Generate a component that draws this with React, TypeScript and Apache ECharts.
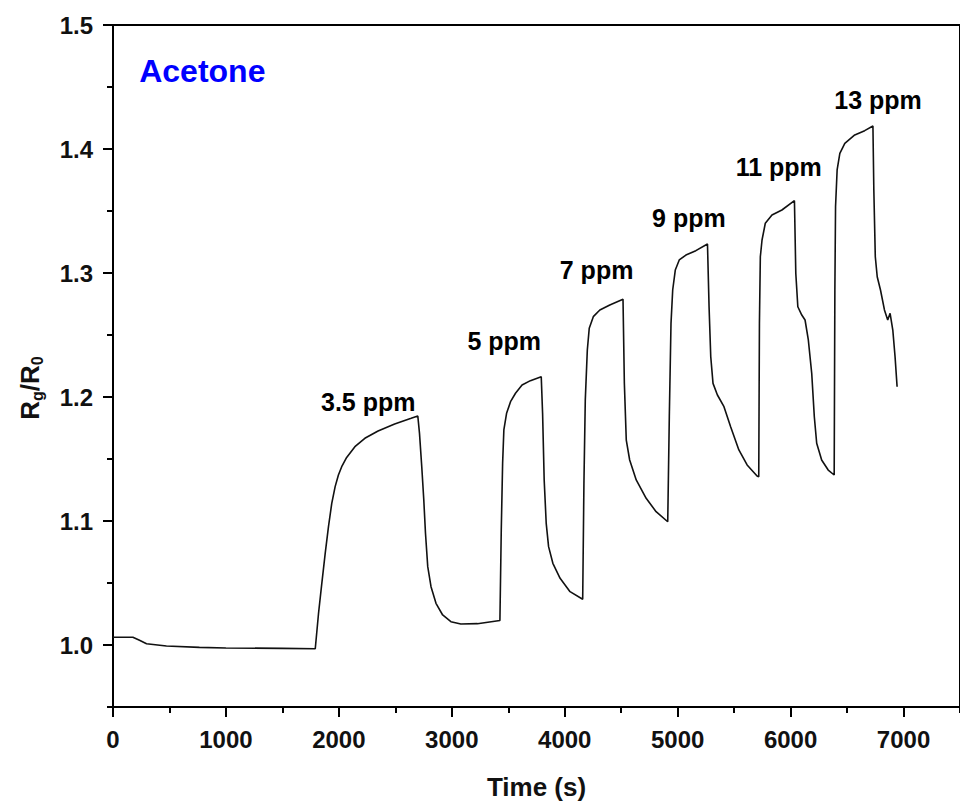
import React, { useEffect, useRef } from "react";
import * as echarts from "echarts";

// Time (s) and Rg/R0 samples
const timeS = [
  0, 176, 230, 297, 473, 765, 1000, 1497, 1791,
  1820, 1849, 1879, 1908, 1937, 1967, 1996, 2025, 2069, 2142, 2230, 2347, 2494, 2640, 2699,
  2714, 2734, 2752, 2767, 2787, 2816, 2860, 2919, 2992, 3080, 3227, 3426,
  3438, 3450, 3461, 3485, 3520, 3564, 3622, 3696, 3792,
  3804, 3818, 3836, 3857, 3895, 3959, 4047, 4159,
  4170, 4182, 4200, 4217, 4253, 4311, 4399, 4516,
  4528, 4545, 4575, 4633, 4721, 4809, 4912,
  4926, 4941, 4956, 4979, 5014, 5073, 5161, 5264,
  5278, 5293, 5313, 5352, 5410, 5469, 5542, 5615, 5703, 5718,
  5724, 5732, 5747, 5776, 5835, 5923, 6034,
  6046, 6064, 6099, 6128, 6157, 6187, 6210, 6231, 6275, 6333, 6386,
  6392, 6398, 6412, 6436, 6480, 6568, 6656, 6729,
  6737, 6750, 6767, 6796, 6831, 6860, 6881, 6905, 6925, 6943,
];
const ratio = [
  1.0062, 1.0062, 1.004, 1.001, 0.9992, 0.9981, 0.9976, 0.9973, 0.997,
  1.0256, 1.0497, 1.0739, 1.0954, 1.1142, 1.1277, 1.1371, 1.1438, 1.1513, 1.1599, 1.1667, 1.1726, 1.1782, 1.1828, 1.1847,
  1.1707, 1.1438, 1.1169, 1.0901, 1.0632, 1.047, 1.0336, 1.0242, 1.0188, 1.0169, 1.0172, 1.0198,
  1.0927, 1.1465, 1.1734, 1.1868, 1.1962, 1.203, 1.2097, 1.2132, 1.2164,
  1.1868, 1.1331, 1.0981, 1.0793, 1.0659, 1.0538, 1.043, 1.0369,
  1.1304, 1.1976, 1.2379, 1.2554, 1.2648, 1.2702, 1.2742, 1.2788,
  1.211, 1.1653, 1.1492, 1.1331, 1.1183, 1.1075, 1.0994,
  1.1841, 1.2594, 1.2863, 1.3024, 1.3105, 1.3145, 1.318, 1.3234,
  1.2728, 1.2325, 1.211, 1.2016, 1.1922, 1.176, 1.1573, 1.1452, 1.1363, 1.1357,
  1.2594, 1.3131, 1.3266, 1.3401, 1.3468, 1.3508, 1.3583,
  1.2998, 1.2728, 1.2661, 1.2621, 1.246, 1.2191, 1.1841, 1.1627, 1.1492, 1.1411, 1.1371,
  1.2863, 1.3535, 1.3831, 1.3965, 1.4046, 1.4113, 1.4148, 1.4185,
  1.3669, 1.3131, 1.297, 1.2863, 1.2702, 1.2621, 1.2675, 1.254, 1.2325, 1.2083,
];

// Concentration annotations
const concLabels = ["3.5 ppm", "5 ppm", "7 ppm", "9 ppm", "11 ppm", "13 ppm"];
const concLabelT = [2260, 3464, 4282, 5099, 5895, 6774];
const concLabelY = [1.1962, 1.2454, 1.3024, 1.3441, 1.3857, 1.4395];

const gasName = "Acetone";
const gasLabelT = 791;
const gasLabelY = 1.4629;

// Axis ticks
const xMajorTicks = [0, 1000, 2000, 3000, 4000, 5000, 6000, 7000];
const xMinorTicks = [500, 1500, 2500, 3500, 4500, 5500, 6500, 7500];
const yMajorTicks = [1.0, 1.1, 1.2, 1.3, 1.4, 1.5];
const yMinorTicks = [0.95, 1.05, 1.15, 1.25, 1.35, 1.45];

const FONT = "'Liberation Sans', Arial, sans-serif";

export default function App() {
  const ref = useRef<HTMLDivElement>(null);
  useEffect(() => {
    if (!ref.current) return;
    const chart = echarts.init(ref.current, undefined, { renderer: "svg" });
    const lineData = timeS.map((t, i) => [t, ratio[i]]);
    const labelData = concLabelT.map((t, i) => [t, concLabelY[i]]);
    const xBase = { type: "value", min: 0, max: 7500, position: "bottom", splitLine: { show: false } };
    const yBase = { type: "value", min: 0.95, max: 1.5, position: "left", splitLine: { show: false } };
    chart.setOption({
      animation: false,
      backgroundColor: "#fff",
      grid: {
        left: 113,
        top: 25,
        right: -6,
        bottom: 103,
        show: true,
        borderColor: "#000",
        borderWidth: 2,
        backgroundColor: "transparent",
      },
      xAxis: [
        {
          ...xBase,
          name: "Time (s)",
          nameLocation: "middle",
          nameGap: 67,
          nameTextStyle: { fontFamily: FONT, fontWeight: "bold", fontSize: 26, color: "#111" },
          axisLine: { show: true, lineStyle: { color: "#000", width: 2 } },
          axisTick: { show: true, customValues: xMajorTicks, length: 10, lineStyle: { color: "#000", width: 2 } },
          axisLabel: {
            show: true,
            customValues: xMajorTicks,
            margin: 20,
            formatter: (v: number) => String(Math.round(v)),
            fontFamily: FONT,
            fontWeight: "bold",
            fontSize: 24,
            color: "#111",
          },
        },
        {
          ...xBase,
          axisLine: { show: false },
          axisTick: { show: true, customValues: xMinorTicks, length: 6, lineStyle: { color: "#000", width: 2 } },
          axisLabel: { show: false },
        },
      ],
      yAxis: [
        {
          ...yBase,
          axisLine: { show: true, lineStyle: { color: "#000", width: 2 } },
          axisTick: { show: true, customValues: yMajorTicks, length: 10, lineStyle: { color: "#000", width: 2 } },
          axisLabel: {
            show: true,
            customValues: yMajorTicks,
            margin: 20,
            formatter: (v: number) => v.toFixed(1),
            fontFamily: FONT,
            fontWeight: "bold",
            fontSize: 24,
            color: "#111",
          },
        },
        {
          ...yBase,
          axisLine: { show: false },
          axisTick: { show: true, customValues: yMinorTicks, length: 6, lineStyle: { color: "#000", width: 2 } },
          axisLabel: { show: false },
        },
      ],
      graphic: [
        {
          type: "text",
          x: 30,
          y: 388,
          rotation: Math.PI / 2,
          style: {
            text: "{b|R}{s|g}{b|/R}{s|0}",
            align: "center",
            verticalAlign: "middle",
            rich: {
              b: { fontFamily: FONT, fontWeight: "bold", fontSize: 26, lineHeight: 30, fill: "#111" },
              s: { fontFamily: FONT, fontWeight: "bold", fontSize: 16, lineHeight: 14, verticalAlign: "bottom", fill: "#111" },
            },
          },
        },
      ],
      series: [
        {
          type: "line",
          data: lineData,
          xAxisIndex: 0,
          yAxisIndex: 0,
          showSymbol: false,
          symbol: "none",
          lineStyle: { color: "#111", width: 1.6 },
          silent: true,
        },
        {
          type: "scatter",
          data: labelData,
          xAxisIndex: 0,
          yAxisIndex: 0,
          symbolSize: 0,
          silent: true,
          itemStyle: { opacity: 1 },
          label: {
            show: true,
            position: "inside",
            formatter: (p: any) => concLabels[p.dataIndex],
            fontFamily: FONT,
            fontWeight: "bold",
            fontSize: 25,
            color: "#000",
            opacity: 1,
            textBorderWidth: 0,
          },
        },
        {
          type: "scatter",
          data: [[gasLabelT, gasLabelY]],
          xAxisIndex: 0,
          yAxisIndex: 0,
          symbolSize: 0,
          silent: true,
          itemStyle: { opacity: 1 },
          label: {
            show: true,
            position: "inside",
            formatter: () => gasName,
            fontFamily: FONT,
            fontWeight: "bold",
            fontSize: 32,
            color: "#0000FF",
            opacity: 1,
            textBorderWidth: 0,
          },
        },
      ],
    });
    return () => chart.dispose();
  }, []);
  return (
    <div
      ref={ref}
      style={{ position: "absolute", left: 0, top: 0, width: 960, height: 810 }}
    />
  );
}
